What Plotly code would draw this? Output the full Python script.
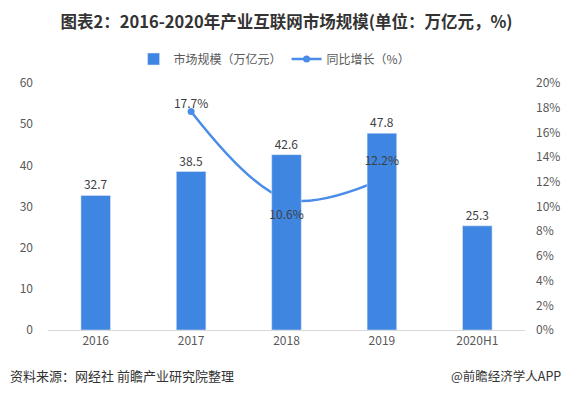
import plotly.graph_objects as go

categories = ["2016", "2017", "2018", "2019", "2020H1"]
market_size = [32.7, 38.5, 42.6, 47.8, 25.3]
growth = [None, 17.7, 10.6, 12.2, None]
growth_text = ["", "17.7%", "10.6%", "12.2%", ""]
growth_text_pos = ["top center", "top center", "bottom center", "top center", "top center"]
label_pad = [0, 0, 16, 16, 0]
left_ticks = [0, 10, 20, 30, 40, 50, 60]
right_ticks = [0, 2, 4, 6, 8, 10, 12, 14, 16, 18, 20]

BLUE = "#3F86E2"
LINE_BLUE = "#4A8DE8"
FONT = "Noto Sans CJK SC"
TICK_COLOR = "#595959"

fig = go.Figure()

# growth line on primary (bottom layer) axis so bars cover it
fig.add_trace(go.Scatter(
    x=categories, y=growth, name="同比增长（%）", mode="lines+markers",
    line=dict(color=LINE_BLUE, width=2.5, shape="spline"),
    marker=dict(color=LINE_BLUE, size=7),
    connectgaps=False, yaxis="y", showlegend=True,
))

# bars on overlay axis (drawn above the line)
fig.add_trace(go.Bar(
    x=categories, y=market_size, name="市场规模（万亿元）",
    marker=dict(color=BLUE), width=0.31,
    text=[f"{v:.1f}" for v in market_size], textposition="outside",
    textfont=dict(size=12, color="#404040", family=FONT),
    cliponaxis=False, yaxis="y2",
))

# growth labels on top layer
fig.add_trace(go.Scatter(
    x=categories, y=growth, mode="text+markers", text=growth_text,
    textposition=growth_text_pos,
    marker=dict(size=label_pad, opacity=0, color="white"),
    textfont=dict(size=12, color="#404040", family=FONT),
    yaxis="y3", showlegend=False, hoverinfo="skip",
))

fig.update_layout(
    width=565, height=398,
    margin=dict(l=48, r=40, t=83, b=68, autoexpand=False),
    paper_bgcolor="white", plot_bgcolor="white",
    font=dict(family=FONT, color=TICK_COLOR, size=12),
    title=dict(
        text="<b>图表2：2016-2020年产业互联网市场规模(单位：万亿元，%)</b>",
        x=0.5, xanchor="center", xref="paper", y=1 - 22 / 398, yref="container",
        yanchor="middle",
        font=dict(size=16.5, color="#333333", family=FONT),
    ),
    legend=dict(
        orientation="h", x=0.475, xanchor="center", y=1 + 24 / 247, yanchor="middle",
        font=dict(size=12, color=TICK_COLOR, family=FONT),
        traceorder="reversed", itemwidth=30,
    ),
    showlegend=True,
    xaxis=dict(
        type="category", showline=True, linecolor="#d9d9d9", linewidth=1,
        ticks="", showgrid=False, tickfont=dict(size=12, color=TICK_COLOR),
        automargin=False,
    ),
    yaxis=dict(
        side="right", range=[0, 20], tickvals=right_ticks,
        ticktext=[f"{v}%" for v in right_ticks],
        showgrid=False, zeroline=False, showline=False, ticks="",
        tickfont=dict(size=12, color=TICK_COLOR), ticklabelstandoff=10,
        automargin=False,
    ),
    yaxis2=dict(
        overlaying="y", side="left", range=[0, 60], tickvals=left_ticks,
        showgrid=False, zeroline=False, showline=False, ticks="",
        tickfont=dict(size=12, color=TICK_COLOR), ticklabelstandoff=14,
        automargin=False,
    ),
    yaxis3=dict(
        overlaying="y", range=[0, 20], visible=False,
    ),
)

fig.add_annotation(
    text="资料来源：网经社 前瞻产业研究院整理", xref="paper", yref="paper",
    x=-40 / 477, xanchor="left", y=-45 / 247, yanchor="middle", showarrow=False,
    font=dict(size=13, color="#333333", family=FONT),
)
fig.add_annotation(
    text="@前瞻经济学人APP", xref="paper", yref="paper",
    x=1 + 38 / 477, xanchor="right", y=-45 / 247, yanchor="middle", showarrow=False,
    font=dict(size=12.5, color="#333333", family=FONT),
)

fig.write_html(
    "out.html",
    config={"displayModeBar": False},
    post_script="document.body.style.margin='0';document.body.style.padding='0';",
)
